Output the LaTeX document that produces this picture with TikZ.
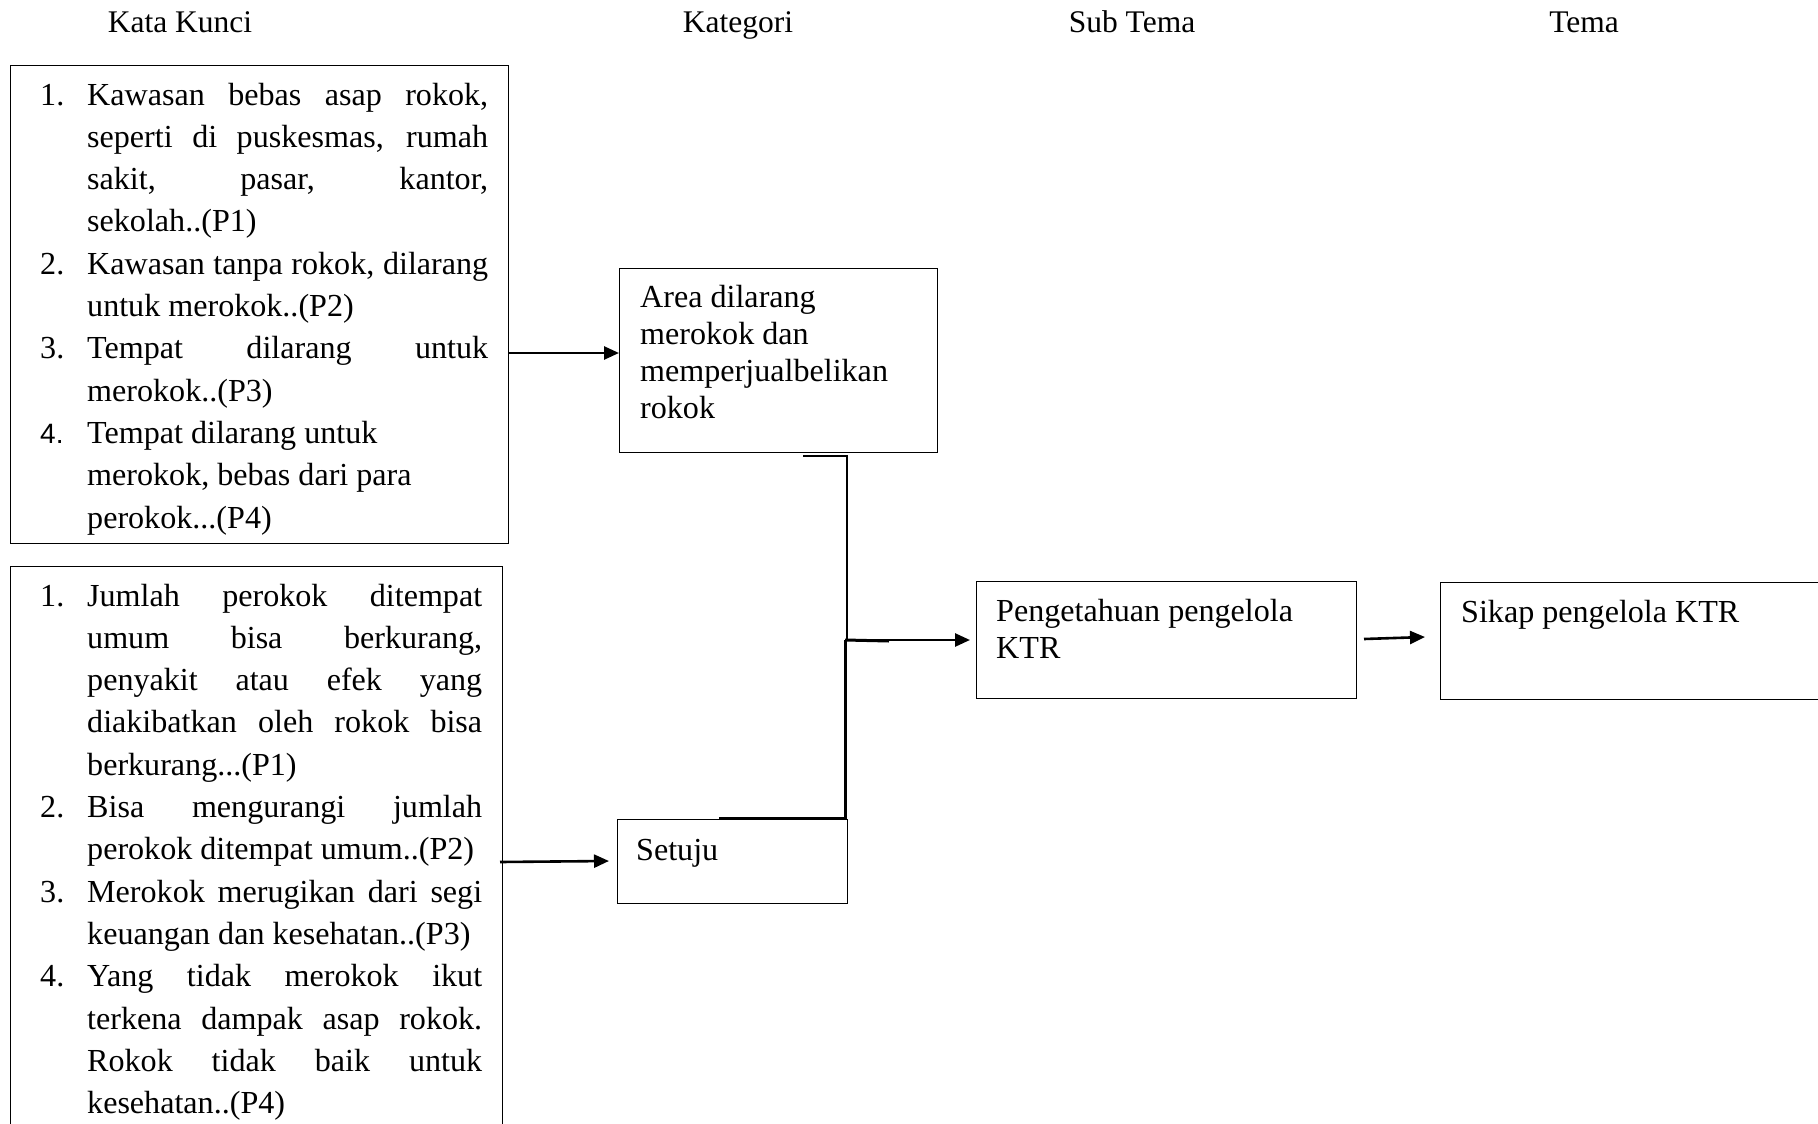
\documentclass[tikz,border=0pt]{standalone}
\usepackage{fontspec}
\setmainfont{Liberation Serif}
\newfontfamily\sansnum{Liberation Sans}
\usetikzlibrary{arrows.meta}

% list helpers: hanging number and a fully justified line
\newcommand\itm[1]{\leavevmode\llap{\makebox[47pt][l]{#1}}}
\newcommand\jl[1]{\makebox[\linewidth][s]{#1}}

\begin{document}
\begin{tikzpicture}[x=1pt,y=-1pt,
  box/.style={draw, line width=1.3pt, rectangle, inner sep=0pt, anchor=north west},
  txt/.style={anchor=base west, inner sep=0pt},
  head/.style={anchor=base, inner sep=0pt, font=\fontsize{31.5}{36}\selectfont},
  arr/.style={line width=2.6pt, -{Triangle[length=15pt,width=13pt]}},
  thin/.style={line width=1.3pt},
  thick/.style={line width=3pt}]
\useasboundingbox (0,0) rectangle (1818,1124);
\clip (0,0) rectangle (1818,1124);

% column headings
\node[head] (hkk) at (180,33) {Kata Kunci};
\node[head] (hkat) at (738,33) {Kategori};
\node[head] (hsub) at (1132,33) {Sub Tema};
\node[head] (htema) at (1584,33) {Tema};

% boxes
\node[box, minimum width=498pt, minimum height=478pt] (kk1) at (10,65) {};
\node[box, minimum width=492pt, minimum height=600pt] (kk2) at (10,566) {};
\node[box, minimum width=318pt, minimum height=184pt] (area) at (619,268) {};
\node[box, minimum width=230pt, minimum height=84pt] (setuju) at (617,819) {};
\node[box, minimum width=380pt, minimum height=117pt] (peng) at (976,581) {};
\node[box, minimum width=400pt, minimum height=117pt] (sikap) at (1440,582) {};

% keyword lists
\node[txt] (t1) at (87,105) {\parbox[t]{401pt}{\fontsize{32.1}{42.3}\selectfont
\itm{1.}\jl{Kawasan bebas asap rokok,}\\
\jl{seperti di puskesmas, rumah}\\
\jl{sakit, pasar, kantor,}\\
sekolah..(P1)\\
\itm{2.}\jl{Kawasan tanpa rokok, dilarang}\\
untuk merokok..(P2)\\
\itm{3.}\jl{Tempat dilarang untuk}\\
merokok..(P3)\\
\itm{{\sansnum\fontsize{28}{42}\selectfont 4.}}Tempat dilarang untuk\\
merokok, bebas dari para\\
perokok...(P4)}};

\node[txt] (t2) at (87,606) {\parbox[t]{395pt}{\fontsize{32.1}{42.3}\selectfont
\itm{1.}\jl{Jumlah perokok ditempat}\\
\jl{umum bisa berkurang,}\\
\jl{penyakit atau efek yang}\\
\jl{diakibatkan oleh rokok bisa}\\
berkurang...(P1)\\
\itm{2.}\jl{Bisa mengurangi jumlah}\\
perokok ditempat umum..(P2)\\
\itm{3.}\jl{Merokok merugikan dari segi}\\
keuangan dan kesehatan..(P3)\\
\itm{4.}\jl{Yang tidak merokok ikut}\\
\jl{terkena dampak asap rokok.}\\
\jl{Rokok tidak baik untuk}\\
kesehatan..(P4)}};

% category, sub-theme and theme texts
\node[txt] (tarea) at (640,307) {\parbox[t]{290pt}{\fontsize{32.1}{37.2}\selectfont
Area dilarang\\merokok dan\\memperjualbelikan\\rokok}};
\node[txt] (tset) at (636,860) {\fontsize{32.1}{37}\selectfont Setuju};
\node[txt] (tpeng) at (996,621) {\parbox[t]{350pt}{\fontsize{32.1}{37.2}\selectfont
Pengetahuan pengelola\\KTR}};
\node[txt] (tsik) at (1461,622) {\fontsize{32.1}{37}\selectfont Sikap pengelola KTR};

% connectors
\draw[arr] (kk1.east |- 0,353) -- (area.west |- 0,353);
\draw[arr] (500,862) -- ([xshift=-8pt]setuju.west |- 0,861);

\coordinate (ja) at (803,456);
\coordinate (jb) at (847,456);
\coordinate (jc) at (847,640);
\coordinate (jd) at (845,640);
\coordinate (je) at (845,818);
\coordinate (jf) at (719,818);
\draw[thin] (ja) -- (jb) -- (jc);
\draw[thick] (jf) -- (je) -- (jd);
\draw[thick] (jd) -- (889,641);
\draw[arr] (jd) -- ([xshift=-6pt]peng.west |- jd);

\draw[arr] (1364,639) -- ([xshift=-15pt]sikap.west |- 0,637);
\end{tikzpicture}
\end{document}
